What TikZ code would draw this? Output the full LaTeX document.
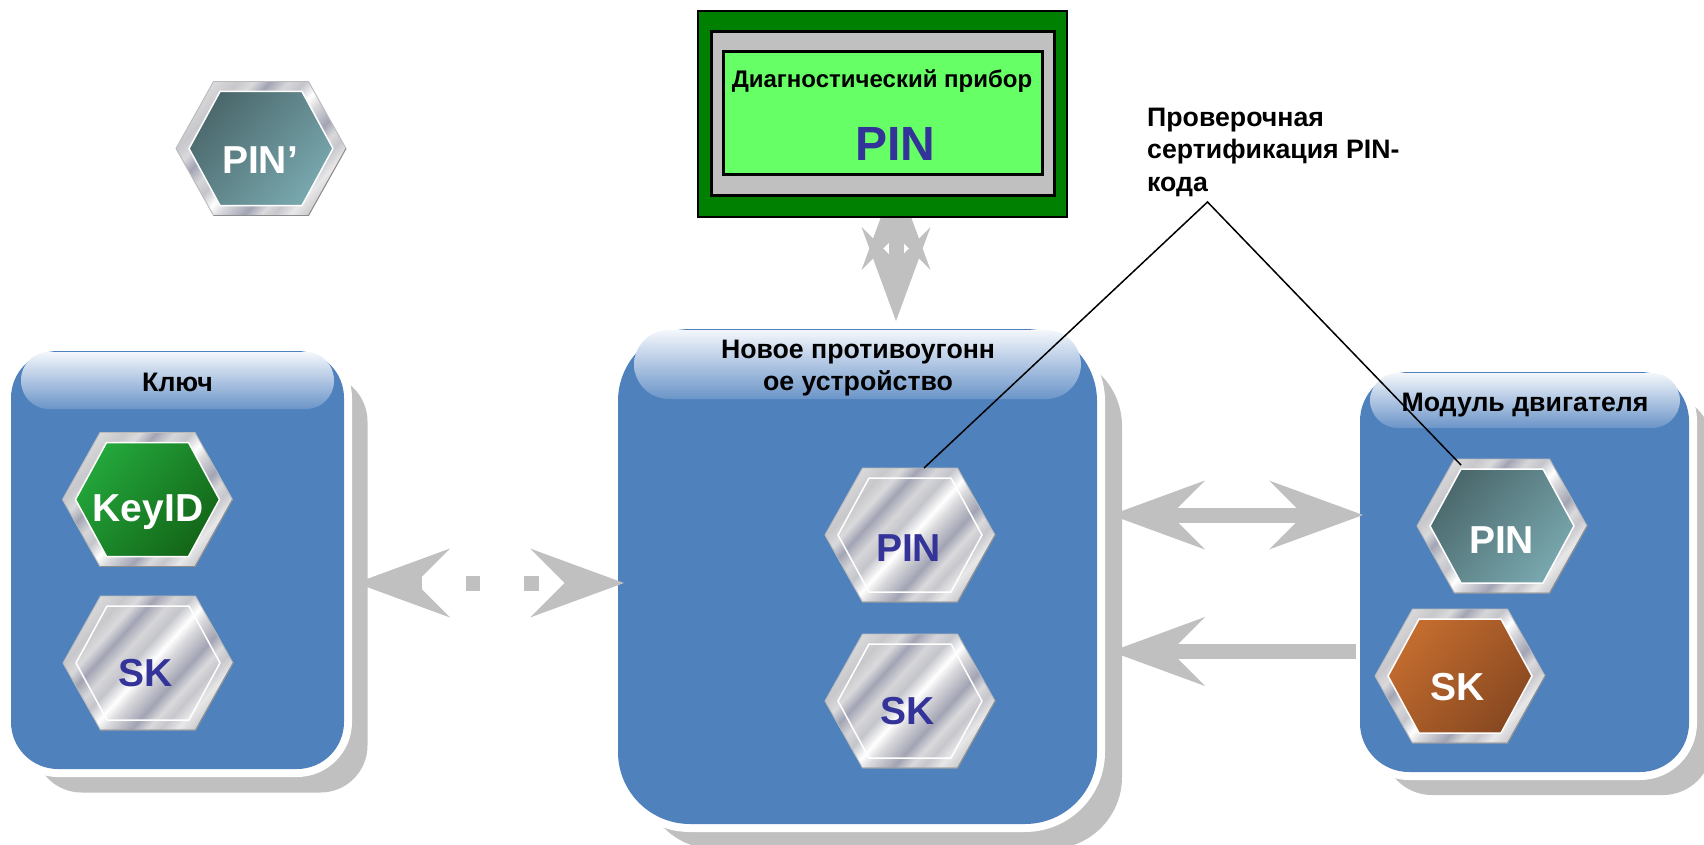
\documentclass[tikz,border=0pt]{standalone}
\usepackage{fontspec}
\setmainfont{Liberation Sans}
\usetikzlibrary{calc}
\definecolor{panelblue}{HTML}{4F81BD}
\definecolor{shad}{HTML}{C0C0C0}
\definecolor{pinblue}{HTML}{333399}
\definecolor{mA}{HTML}{DADADC}\definecolor{mB}{HTML}{C8C8CC}\definecolor{mC}{HTML}{DADADC}
\definecolor{mD}{HTML}{A2A4B4}\definecolor{mE}{HTML}{D6D6D9}\definecolor{mF}{HTML}{C4C5CB}
\definecolor{mG}{HTML}{FFFFFF}\definecolor{mH}{HTML}{DADADD}\definecolor{mI}{HTML}{BEBFC8}
\definecolor{mJ}{HTML}{C6C6CC}\definecolor{mK}{HTML}{E8E8E9}\definecolor{mL}{HTML}{CACACD}
\definecolor{tealA}{HTML}{4A676B}\definecolor{tealB}{HTML}{79A9AF}
\definecolor{greenA}{HTML}{23A83C}\definecolor{greenB}{HTML}{136517}
\definecolor{orangeA}{HTML}{C56D2F}\definecolor{orangeB}{HTML}{874820}
\definecolor{glossA}{HTML}{F4F7FB}\definecolor{glossB}{HTML}{AFC5E2}\definecolor{glossC}{HTML}{6B95C8}
\pgfdeclarehorizontalshading{metal}{100bp}{color(0bp)=(mA);color(30bp)=(mA);color(34.5bp)=(mB);color(37.5bp)=(mC);color(40.5bp)=(mD);color(44bp)=(mE);color(47bp)=(mF);color(50.5bp)=(mG);color(53bp)=(mH);color(55.5bp)=(mI);color(58bp)=(mD);color(61bp)=(mA);color(63.5bp)=(mJ);color(66.5bp)=(mK);color(70bp)=(mL);color(100bp)=(mL)}
\pgfdeclarehorizontalshading{tealg}{100bp}{color(0bp)=(tealA);color(33bp)=(tealA);color(67bp)=(tealB);color(100bp)=(tealB)}
\pgfdeclarehorizontalshading{greeng}{100bp}{color(0bp)=(greenA);color(33bp)=(greenA);color(67bp)=(greenB);color(100bp)=(greenB)}
\pgfdeclarehorizontalshading{orangeg}{100bp}{color(0bp)=(orangeA);color(33bp)=(orangeA);color(67bp)=(orangeB);color(100bp)=(orangeB)}
\pgfdeclareverticalshading{glossy}{100bp}{color(0bp)=(glossC);color(25bp)=(glossC);color(50bp)=(glossB);color(75bp)=(glossA);color(100bp)=(glossA)}
\def\hexouter{(-85,0)--(-47.5,-67)--(47.5,-67)--(85,0)--(47.5,67)--(-47.5,67)--cycle}
\def\hexinner{(-72,0)--(-41,-57)--(41,-57)--(72,0)--(41,57)--(-41,57)--cycle}
\newcommand\hexring[3]{%
 \node[hexbox] (#1) at (#2,#3) {};
 \begin{scope}[shift={(#2,#3)}]
  \begin{scope}\clip \hexouter; \shade[shading=metal,shading angle=-42] (-100,-100) rectangle (100,100);\end{scope}
  \draw[rimlight] \hexouter;
  \draw[rimdark] (85,0)--(47.5,67)--(-47.5,67);
 \end{scope}}
\newcommand\hexsilver[3]{\hexring{#1}{#2}{#3}%
 \begin{scope}[shift={(#2,#3)}]\draw[hexline] \hexinner;\end{scope}}
\newcommand\hexcolor[4]{\hexring{#1}{#2}{#3}%
 \begin{scope}[shift={(#2,#3)}]
  \begin{scope}\clip \hexinner; \shade[shading=#4,shading angle=-42] (-100,-100) rectangle (100,100);\end{scope}
  \draw[hexline] \hexinner;
 \end{scope}}
\newcommand\dart[2]{\fill[shad,shift={(#1)},rotate=#2] (0,0)--(94,-34.5)--(59.5,0)--(94,34.5)--cycle;}
% name, cx, cy, w, h, radius, shadow offset
\newcommand\panelbox[7]{%
 \node[plainbox,fill=shad,rounded corners=#6pt,minimum width=#4pt,minimum height=#5pt] (#1s) at (#2+#7,#3+#7) {};
 \pgfmathsetmacro\pw{#4+16}\pgfmathsetmacro\ph{#5+16}\pgfmathsetmacro\pr{#6+8}
 \node[plainbox,fill=white,rounded corners=\pr pt,minimum width=\pw pt,minimum height=\ph pt] (#1w) at (#2,#3) {};
 \node[plainbox,fill=panelblue,rounded corners=#6pt,minimum width=#4pt,minimum height=#5pt] (#1) at (#2,#3) {};}
\tikzset{
 hexbox/.style={rectangle,inner sep=0pt,outer sep=0pt,minimum width=170pt,minimum height=134pt},
 rimlight/.style={draw=black!27,line width=0.9pt},
 rimdark/.style={draw=black!45,line width=0.9pt},
 hexline/.style={draw=white,line width=1.5pt},
 plainbox/.style={rectangle,inner sep=0pt,outer sep=0pt},
 lbl/.style={font=\fontsize{26.7}{33}\bfseries\selectfont,text=black,inner sep=0pt,anchor=base,align=center},
 montext/.style={font=\fontsize{24}{30}\bfseries\selectfont,text=black,inner sep=0pt,anchor=base},
 hextxt/.style={font=\fontsize{39}{44}\bfseries\selectfont,inner sep=0pt,anchor=base},
 bigtxt/.style={font=\fontsize{48}{54}\bfseries\selectfont,inner sep=0pt,anchor=base,text=pinblue},
 callout/.style={draw=black,line width=1.5pt,line join=miter},
 shaft/.style={draw=shad,line width=15pt}
}
\begin{document}
\begin{tikzpicture}[x=1pt,y=-1pt]
\useasboundingbox (0,0) rectangle (1704,845);
\clip (0,0) rectangle (1704,845);
\fill[white] (0,0) rectangle (1704,845);
% right panel
\panelbox{engine}{1524.5}{572}{329}{400}{49}{23}
\shade[shading=glossy,rounded corners=28pt] (1370,373) rectangle (1680,428);
% solid arrows
\coordinate (a1l) at (1111,515); \coordinate (a1r) at (1363,515);
\coordinate (a2l) at (1111,651.5); \coordinate (a2r) at (1356,651.5);
\draw[shaft] ($(a1l)+(60,0)$) -- ($(a1r)+(-60,0)$);
\dart{a1l}{0} \dart{a1r}{180}
\draw[shaft] ($(a2l)+(60,0)$) -- (a2r);
\dart{a2l}{0}
% middle panel
\panelbox{immo}{857.5}{576.5}{479}{495}{72}{25}
\shade[shading=glossy,rounded corners=35pt] (634,330) rectangle (1081,399);
% dashed arrow
\coordinate (a3l) at (356,583); \coordinate (a3r) at (624,583);
\dart{a3l}{0} \dart{a3r}{180}
\fill[shad] (400,577) rectangle (422,589);
\fill[shad] (466,576) rectangle (480,591);
\fill[shad] (524,576) rectangle (539,591);
% left panel
\panelbox{keyp}{177.5}{560}{333}{418}{47}{23.5}
\shade[shading=glossy,rounded corners=28pt] (21,352) rectangle (334,409);
% vertical arrow
\coordinate (a4t) at (896,176); \coordinate (a4b) at (896,321);
\draw[shaft] (a4t) -- ($(a4b)+(0,-60)$);
\dart{a4t}{-90} \dart{a4b}{90}
% monitor
\node[rectangle,draw=black,line width=2pt,fill=green!50!black,inner sep=0pt,outer sep=0pt,minimum width=369pt,minimum height=206pt] (mon1) at (882.5,114) {};
\node[rectangle,draw=black,line width=3pt,fill=shad,inner sep=0pt,outer sep=0pt,minimum width=343pt,minimum height=164pt] (mon2) at (882.5,114) {};
\node[rectangle,draw=black,line width=3pt,fill={rgb,255:red,102;green,255;blue,102},inner sep=0pt,outer sep=0pt,minimum width=319pt,minimum height=123pt] (mon3) at (882.5,113.5) {};
\node[montext] (montxt) at (882,88) {Диагностический прибор};
\node[bigtxt] (monpin) at (895,161) {PIN};
% hexagons
\hexcolor{pinp}{261}{148.5}{tealg}
\hexcolor{keyid}{147.5}{499.5}{greeng}
\hexsilver{skl}{148}{663}
\hexsilver{pinm}{910}{535}
\hexsilver{skm}{910}{701}
\hexcolor{pinr}{1502}{526}{tealg}
\hexcolor{skr}{1460}{676}{orangeg}
\node[hextxt,text=white] (pinptxt) at (260,174) {PIN’};
\node[hextxt,text=white] (keyidtxt) at (148,521) {KeyID};
\node[hextxt,text=pinblue] (skltxt) at (145.5,686) {SK};
\node[hextxt,text=pinblue] (pinmtxt) at (908.5,561) {PIN};
\node[hextxt,text=pinblue] (skmtxt) at (907.5,724) {SK};
\node[hextxt,text=white] (pinrtxt) at (1501.5,553) {PIN};
\node[hextxt,text=white] (skrtxt) at (1458,700) {SK};
% panel titles
\node[lbl] (keytitle) at (177.5,391) {Ключ};
\node[lbl] (immotitle1) at (858,358) {Новое противоугонн};
\node[lbl] (immotitle2) at (858,390.5) {ое устройство};
\node[lbl] (enginetitle) at (1525,411) {Модуль двигателя};
% callout
\node[lbl,anchor=base west] (ct1) at (1147,127) {Проверочная};
\node[lbl,anchor=base west] (ct2) at (1147,158.5) {сертификация PIN-};
\node[lbl,anchor=base west] (ct3) at (1147,191) {кода};
\coordinate (apex) at (1207.5,202);
\draw[callout] ([xshift=14pt]pinm.north) -- (apex) -- ([xshift=-41pt,yshift=-6pt]pinr.north);
\end{tikzpicture}
\end{document}
